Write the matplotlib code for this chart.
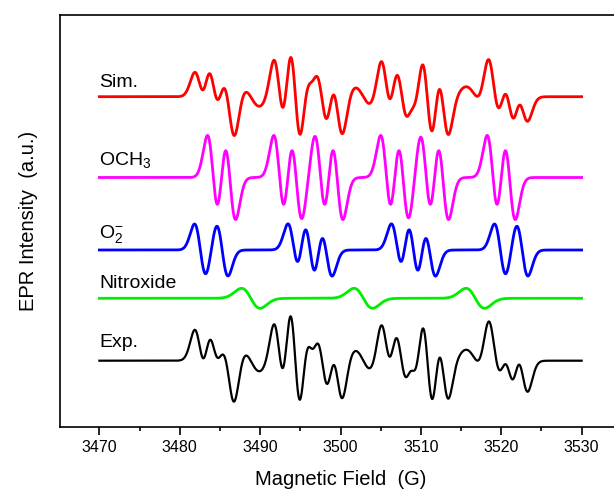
import numpy as np
import matplotlib.pyplot as plt

plt.rcParams['font.family'] = ['Liberation Sans', 'DejaVu Sans']
plt.rcParams['mathtext.fontset'] = 'custom'
plt.rcParams['mathtext.rm'] = 'Liberation Sans'
plt.rcParams['mathtext.it'] = 'Liberation Sans:italic'

# Linhas hiperfinas de cada aduto: posição (G) e intensidade relativa
och3_pos = [3484.15, 3486.25, 3492.40, 3494.50, 3497.50, 3499.60,
            3505.70, 3507.80, 3510.65, 3512.75, 3518.95, 3521.05]
och3_amp = [1.0, 1.0, 1.0, 1.0, 1.0, 1.0, 1.0, 1.0, 1.0, 1.0, 1.0, 1.0]
och3_larg = 0.70

o2_pos = [3482.56, 3485.28, 3494.18, 3496.21, 3498.24,
          3507.05, 3509.08, 3511.11, 3519.88, 3522.60]
o2_amp = [1.0, 1.0, 1.0, 1.25, 1.0, 1.0, 1.25, 1.0, 1.0, 1.0]
o2_larg = 0.72

nitro_pos = [3488.84, 3502.84, 3516.77]
nitro_amp = [1.0, 1.0, 1.0]
nitro_larg = 1.15

# Escala de cada componente e pesos no espectro simulado e experimental
escala = {'och3': 42, 'o2': 26, 'nitro': 10}
pesos_sim = {'och3': 0.9, 'o2': 0.9, 'nitro': 1.0}
pesos_exp = {'och3': 0.9, 'o2': 1.15, 'nitro': 1.1}

# Deslocamento vertical de cada curva
offset = {'sim': 330.3, 'och3': 249.5, 'o2': 177.0, 'nitro': 128.7, 'exp': 66.3}

campo = np.linspace(3470, 3530, 2401)


def derivada(pos, amp, larg):
    # primeira derivada de gaussianas, pico normalizado em 1
    y = np.zeros_like(campo)
    for c, a in zip(pos, amp):
        u = (campo - c) / larg
        y += -a * u * np.exp(0.5 * (1 - u**2))
    return y


och3 = derivada(och3_pos, och3_amp, och3_larg) * escala['och3']
o2 = derivada(o2_pos, o2_amp, o2_larg) * escala['o2']
nitro = derivada(nitro_pos, nitro_amp, nitro_larg) * escala['nitro']

sim = pesos_sim['och3'] * och3 + pesos_sim['o2'] * o2 + pesos_sim['nitro'] * nitro
exp = pesos_exp['och3'] * och3 + pesos_exp['o2'] * o2 + pesos_exp['nitro'] * nitro

fig = plt.figure(figsize=(6.14, 4.9), dpi=100)
ax = fig.add_axes([60 / 614, 63 / 490, 561 / 614, 412 / 490])

ax.plot(campo, sim + offset['sim'], color='#ff0000', lw=2)
ax.plot(campo, och3 + offset['och3'], color='#ff00ff', lw=2)
ax.plot(campo, o2 + offset['o2'], color='#0000ff', lw=2)
ax.plot(campo, nitro + offset['nitro'], color='#00ee00', lw=2)
ax.plot(campo, exp + offset['exp'], color='black', lw=1.6)

rotulos = [('Sim.', 340.3), ('OCH$_3$', 262), ('O$_2^{-}$', 189),
           ('Nitroxide', 139), ('Exp.', 80.3)]
for txt, yb in rotulos:
    ax.text(3470, yb, txt, fontsize=14, va='baseline', ha='left')

ax.set_xlim(3465.1, 3534.9)
ax.set_ylim(0, 412)
ax.set_xticks([3470, 3480, 3490, 3500, 3510, 3520, 3530])
ax.set_xticks(np.arange(3475, 3530, 10), minor=True)
ax.set_yticks([])
ax.tick_params(axis='x', which='major', length=6, width=1.2, labelsize=11.5, direction='out')
ax.tick_params(axis='x', which='minor', length=3, width=1.2, direction='out')
for s in ax.spines.values():
    s.set_linewidth(1.2)

ax.set_xlabel('Magnetic Field  (G)', fontsize=14.5, labelpad=11)
ax.set_ylabel('EPR Intensity  (a.u.)', fontsize=14.5, labelpad=16)

fig.savefig('out.png', dpi=100)
